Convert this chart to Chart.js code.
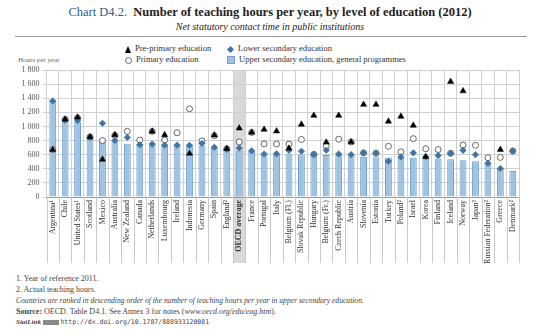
<!DOCTYPE html>
<html>
<head>
<meta charset="utf-8">
<script src="https://cdn.jsdelivr.net/npm/chart.js@4.4.1/dist/chart.umd.min.js"></script>
<style>
  body { margin: 0; width: 540px; height: 336px; background: #fff; font-family: "Liberation Serif", serif; color: #222; position: relative; overflow: hidden; }
  .abs { position: absolute; white-space: nowrap; }
  #title { left: 0; width: 540px; top: 5px; text-align: center; font-size: 12.5px; }
  #title .lead { color: #2f5a8a; }
  #subtitle { left: 0; width: 540px; top: 21px; text-align: center; font-size: 10px; font-style: italic; color: #222; }
  #rule { left: 15px; top: 36px; width: 512px; height: 0; border-top: 1px solid #999; }
  .leg { font-size: 8.5px; color: #333; }
  .mk { display: inline-block; vertical-align: middle; margin-right: 4px; }
  .tri { width: 0; height: 0; border-left: 3.5px solid transparent; border-right: 3.5px solid transparent; border-bottom: 7px solid #000; }
  .circ { width: 5px; height: 5px; border: 1px solid #666; border-radius: 50%; background: #fff; }
  .dia { width: 5px; height: 5px; background: #3e74a6; transform: rotate(45deg); margin-left: 1px; margin-right: 5px; }
  .sq { width: 6px; height: 6px; background: #9ec3e3; border: 1px solid #6f9fcb; }
  #yunit { left: 18px; top: 56px; font-size: 7px; color: #666; }
  #wrap { position: absolute; left: 0; top: 62px; width: 540px; height: 210px; }
  .note { left: 16px; font-size: 8px; color: #444; }
</style>
</head>
<body>
<div class="abs" id="title"><span class="lead">Chart D4.2.</span>&nbsp; <b>Number of teaching hours per year, by level of education (2012)</b></div>
<div class="abs" id="subtitle">Net statutory contact time in public institutions</div>
<div class="abs" id="rule"></div>

<div class="abs leg" style="left:125px; top:43px;"><span class="mk tri"></span>Pre-primary education</div>
<div class="abs leg" style="left:125px; top:54px;"><span class="mk circ"></span>Primary education</div>
<div class="abs leg" style="left:227px; top:43px;"><span class="mk dia"></span>Lower secondary education</div>
<div class="abs leg" style="left:227px; top:54px;"><span class="mk sq"></span>Upper secondary education, general programmes</div>
<div class="abs" id="yunit">Hours per year</div>

<div id="wrap"><canvas id="teachChart"></canvas></div>

<div class="abs note" style="top:274px;">1. Year of reference 2011.</div>
<div class="abs note" style="top:285px;">2. Actual teaching hours.</div>
<div class="abs note" style="top:296px; font-style:italic; font-size:7.6px;">Countries are ranked in descending order of the number of teaching hours per year in upper secondary education.</div>
<div class="abs note" style="top:307px;"><b>Source:</b> OECD. Table D4.1. See Annex 3 for notes (<i>www.oecd.org/edu/eag.htm</i>).</div>
<div class="abs note" style="top:318px; font-size:7px;"><b><i>StatLink</i></b> <span style="display:inline-block;width:16px;height:5px;background:#888;vertical-align:middle;"></span> <span style="font-family:'DejaVu Sans Mono',monospace;font-size:6.5px;">http://dx.doi.org/10.1787/888933120081</span></div>

<script>
// Країни (за спаданням годин у старшій середній школі)
var countries = ['Argentina¹', 'Chile', 'United States¹', 'Scotland', 'Mexico', 'Australia', 'New Zealand', 'Canada',
  'Netherlands', 'Luxembourg', 'Ireland', 'Indonesia', 'Germany', 'Spain', 'England²', 'OECD average', 'France',
  'Portugal', 'Italy', 'Belgium (Fl.)', 'Slovak Republic', 'Hungary', 'Belgium (Fr.)', 'Czech Republic', 'Austria',
  'Slovenia', 'Estonia', 'Turkey', 'Poland²', 'Israel', 'Korea', 'Finland', 'Iceland', 'Norway', 'Japan²',
  'Russian Federation²', 'Greece', 'Denmark²'];

var prePrimary = [670, 1100, 1130, 850, 532, 880, null, null, 930, 880, null, 616, null, 875, 684, 975, 915,
  957, 934, 690, 1029, 1155, 775, 1155, 779, 1310, 1310, 1072, 1142, 1014, 570, null, 1635, 1502, null,
  null, 672, null];

var primary = [673, 1100, 1120, 850, 800, 872, 930, 806, 930, 806, 910, 1250, 796, 870, 684, 780, 915,
  752, 752, 750, 815, 604, 720, 820, 779, 625, 621, 718, 640, 827, 684, 673, 620, 737, 732,
  556, 561, 652];

var lowerSec = [1361, 1090, 1082, 850, 1045, 800, 845, 741, 750, 735, 735, 732, 760, 705, 678, 694, 654,
  609, 612, 660, 649, 604, 663, 610, 600, 625, 621, 505, 568, 626, 570, 588, 618, 661, 600,
  478, 405, 652];

var upperSec = [1361, 1085, 1060, 845, 818, 806, 754, 749, 748, 740, 736, 730, 726, 693, 680, 660, 648,
  612, 610, 606, 603, 600, 597, 595, 590, 569, 562, 560, 558, 555, 548, 545, 536, 521, 505,
  483, 415, 369];

var yTicks = [0, 200, 400, 600, 800, 1000, 1200, 1400, 1600, 1800];

var oecdIndex = countries.indexOf('OECD average');
var labelDepth = 66;

// Сіра смуга за OECD average та роздільники під віссю
var extrasPlugin = {
  id: 'extras',
  beforeDraw: function(chart) {
    var c = chart.ctx, xs = chart.scales.x, area = chart.chartArea;
    var x0 = (xs.getPixelForValue(oecdIndex - 1) + xs.getPixelForValue(oecdIndex)) / 2;
    var x1 = (xs.getPixelForValue(oecdIndex) + xs.getPixelForValue(oecdIndex + 1)) / 2;
    c.save();
    c.fillStyle = '#d9d9d9';
    c.fillRect(x0, area.top, x1 - x0, area.bottom - area.top + labelDepth);
    c.restore();
  },
  afterDraw: function(chart) {
    var c = chart.ctx, xs = chart.scales.x, area = chart.chartArea;
    var step = (area.right - area.left) / countries.length;
    c.save();
    c.strokeStyle = '#c8c8c8';
    c.lineWidth = 1;
    for (var i = 0; i <= countries.length; i++) {
      var x = Math.round(area.left + i * step) + 0.5;
      c.beginPath();
      c.moveTo(x, area.bottom);
      c.lineTo(x, area.bottom + labelDepth);
      c.stroke();
    }
    c.restore();
  }
};

var ctx = document.getElementById('teachChart').getContext('2d');

var teachChart = new Chart(ctx, {
  type: 'bar',
  data: {
    labels: countries,
    datasets: [
      {
        type: 'line', label: 'Pre-primary education', data: prePrimary, showLine: false,
        pointStyle: 'triangle', pointRadius: 3.6, backgroundColor: '#000', borderColor: '#000', borderWidth: 0.5, order: 0
      },
      {
        type: 'line', label: 'Lower secondary education', data: lowerSec, showLine: false,
        pointStyle: 'rectRot', pointRadius: 3.3, backgroundColor: '#3e74a6', borderColor: '#3e74a6', borderWidth: 0.5, order: 1
      },
      {
        type: 'line', label: 'Primary education', data: primary, showLine: false,
        pointStyle: 'circle', pointRadius: 3, backgroundColor: '#fff', borderColor: '#666', borderWidth: 1, order: 2
      },
      {
        label: 'Upper secondary education, general programmes', data: upperSec,
        backgroundColor: '#9ec3e3', borderColor: '#6f9fcb', borderWidth: 1,
        categoryPercentage: 1, barPercentage: 0.55, order: 3
      }
    ]
  },
  plugins: [extrasPlugin],
  options: {
    responsive: true,
    maintainAspectRatio: false,
    animation: false,
    layout: { padding: { top: 8, right: 21, bottom: 8, left: 0 } },
    plugins: { legend: { display: false }, tooltip: { enabled: false } },
    scales: {
      x: {
        grid: { color: '#d0d0d0', drawTicks: false, offset: true },
        border: { color: '#999' },
        afterFit: function(scale) { scale.height = labelDepth + 1; },
        ticks: {
          autoSkip: false, maxRotation: 90, minRotation: 90, padding: 3, color: '#333',
          font: function(c) {
            var bold = c.tick && c.tick.label === 'OECD average';
            return { family: 'Liberation Serif', size: 8, weight: bold ? 'bold' : 'normal' };
          }
        }
      },
      y: {
        min: 0, max: 1800,
        afterFit: function(scale) { scale.width = 46.5; },
        afterBuildTicks: function(scale) { scale.ticks = yTicks.map(function(v) { return { value: v }; }); },
        grid: { color: '#d0d0d0', tickLength: 4 },
        border: { display: false },
        ticks: {
          padding: 3, color: '#555',
          font: { family: 'Liberation Serif', size: 8 },
          callback: function(v) { return v >= 1000 ? Math.floor(v / 1000) + ' ' + String(v % 1000).padStart(3, '0') : String(v); }
        }
      }
    }
  }
});
</script>
</body>
</html>
